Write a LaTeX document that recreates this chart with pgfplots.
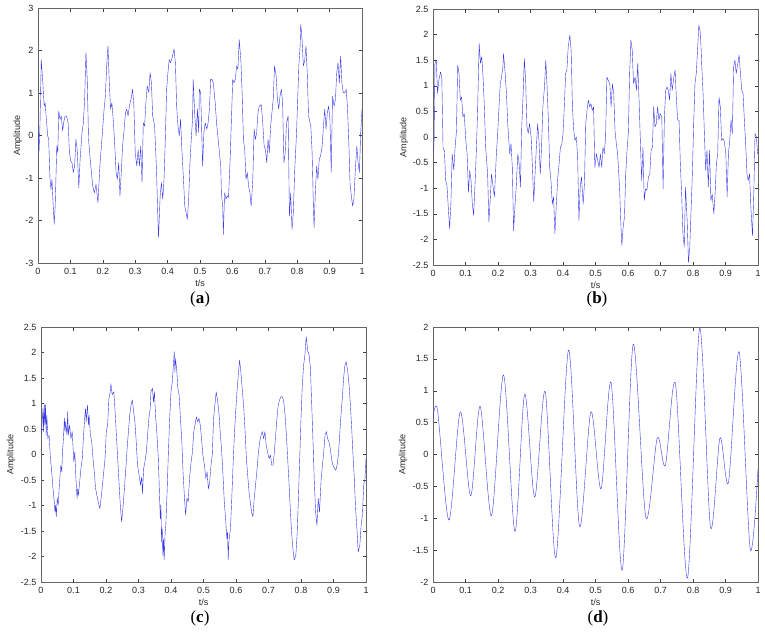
\documentclass[border=0pt]{standalone}
\usepackage{fontspec}
\setmainfont{Liberation Sans}
\newfontfamily\capfont{Liberation Serif}
\usepackage{pgfplots}
\pgfplotsset{compat=1.18}
\definecolor{sig}{RGB}{55,55,230}
\pgfplotsset{
  sigax/.style={
    scale only axis, width=325pt, height=255pt, anchor=south west,
    xmin=0, xmax=1,
    xtick={0,0.1,0.2,0.3,0.4,0.5,0.6,0.7,0.8,0.9,1},
    tick align=inside, major tick length=3.5pt,
    tick style={black!75, line width=0.4pt},
    axis line style={black!60, line width=0.5pt},
    /pgf/number format/assume math mode=true,
    ticklabel style={font=\fontsize{9}{10}\selectfont, text=black!85},
    xticklabel style={/pgf/number format/fixed, /pgf/number format/precision=1, yshift=-1.5pt},
    yticklabel style={/pgf/number format/fixed, /pgf/number format/precision=1, xshift=-1pt},
    label style={font=\fontsize{9}{10}\selectfont, text=black!85},
    xlabel={t/s}, ylabel={Amplitude},
    xlabel style={at={(axis description cs:0.5,-0.079)}, anchor=center},
  },
  sigline/.style={color=sig, line width=0.4pt, line join=round},
}
\begin{document}
\begin{tikzpicture}
\useasboundingbox (0,0) rectangle (765pt,641pt);
% (a)
\begin{axis}[sigax, at={(38pt,378pt)}, width=324pt, ymin=-3, ymax=3, ytick={-3,-2,-1,0,1,2,3},
  ylabel style={at={(axis description cs:-0.062,0.5)}, anchor=center}]
\addplot[sigline] coordinates {
(0.000,0.15)(0.003,-0.40)(0.006,0.22)(0.010,1.79)(0.014,1.36)(0.019,0.69)(0.022,0.77)(0.025,0.46)
(0.030,-0.01)(0.033,-0.09)(0.037,-1.03)(0.040,-1.27)(0.043,-1.03)(0.047,-1.66)(0.050,-2.09)(0.053,-1.66)
(0.058,-0.25)(0.061,-0.40)(0.064,0.58)(0.068,0.38)(0.072,0.46)(0.076,0.11)(0.080,0.34)(0.084,0.46)
(0.088,0.46)(0.093,0.30)(0.097,-0.40)(0.101,-0.60)(0.105,-0.64)(0.109,-0.87)(0.113,-0.72)(0.117,-0.09)
(0.121,-0.33)(0.126,-1.23)(0.130,-0.56)(0.136,0.07)(0.140,0.30)(0.144,0.85)(0.148,1.95)(0.152,1.32)
(0.156,-0.09)(0.163,-0.72)(0.169,-1.19)(0.174,-1.35)(0.179,-1.15)(0.185,-1.58)(0.191,-0.72)(0.198,-0.01)
(0.204,0.62)(0.208,0.93)(0.212,1.64)(0.216,2.11)(0.220,1.24)(0.224,0.62)(0.228,0.77)(0.233,0.30)
(0.237,-0.25)(0.241,-0.87)(0.245,-1.03)(0.249,-0.64)(0.253,-1.42)(0.257,-0.87)(0.261,-0.25)(0.265,0.07)
(0.270,0.54)(0.274,0.62)(0.278,0.46)(0.282,0.69)(0.288,0.89)(0.292,1.09)(0.296,0.69)(0.300,-0.40)
(0.305,-0.72)(0.309,-0.33)(0.313,-0.72)(0.317,-0.25)(0.321,-1.11)(0.325,0.30)(0.329,0.22)(0.333,0.77)
(0.337,1.17)(0.342,1.01)(0.346,1.48)(0.350,1.24)(0.354,0.46)(0.360,0.22)(0.366,-0.87)(0.370,-1.97)
(0.372,-2.40)(0.377,-1.42)(0.381,-1.11)(0.385,-1.50)(0.389,-1.03)(0.393,-0.09)(0.397,1.09)(0.401,1.48)
(0.405,1.79)(0.409,1.71)(0.414,1.83)(0.420,2.04)(0.424,1.71)(0.428,0.69)(0.432,0.22)(0.436,-0.01)
(0.440,0.38)(0.444,-0.33)(0.449,-1.03)(0.453,-1.66)(0.457,-1.82)(0.461,-1.97)(0.465,-1.50)(0.469,-0.64)
(0.473,-0.09)(0.477,0.38)(0.479,1.32)(0.484,0.46)(0.488,-0.01)(0.492,0.62)(0.496,0.07)(0.498,1.09)
(0.502,1.01)(0.504,0.46)(0.508,-0.72)(0.512,0.07)(0.516,0.30)(0.521,0.15)(0.525,0.30)(0.529,0.62)
(0.533,1.32)(0.537,1.32)(0.541,1.24)(0.547,0.77)(0.551,0.30)(0.556,-0.09)(0.560,-0.40)(0.564,-0.72)
(0.566,-1.35)(0.570,-1.66)(0.572,-2.33)(0.576,-1.35)(0.580,-1.50)(0.584,-1.42)(0.588,-1.46)(0.593,-0.56)
(0.597,0.38)(0.601,1.32)(0.605,1.24)(0.609,1.32)(0.613,1.64)(0.617,1.56)(0.621,2.26)(0.626,1.79)
(0.630,1.01)(0.634,-0.09)(0.638,-0.33)(0.642,-1.03)(0.646,-0.87)(0.650,-1.19)(0.654,-1.35)(0.658,-1.66)
(0.663,-1.03)(0.667,0.15)(0.671,-0.09)(0.675,0.07)(0.679,0.54)(0.683,0.69)(0.689,0.73)(0.693,0.38)
(0.698,-0.25)(0.702,-0.33)(0.706,-0.64)(0.710,-0.09)(0.714,-0.40)(0.718,0.22)(0.722,0.54)(0.726,0.85)
(0.730,1.64)(0.735,1.40)(0.739,0.85)(0.743,0.62)(0.747,0.93)(0.751,1.09)(0.755,0.77)(0.759,-0.64)
(0.763,-0.40)(0.767,0.30)(0.772,0.46)(0.776,-1.89)(0.780,-1.35)(0.784,-2.21)(0.788,-1.82)(0.792,-0.87)
(0.798,0.07)(0.805,1.64)(0.809,2.11)(0.811,2.62)(0.815,2.26)(0.819,1.64)(0.823,1.75)(0.827,2.11)
(0.831,1.48)(0.835,0.46)(0.842,0.22)(0.846,-0.40)(0.850,-1.66)(0.852,-2.17)(0.856,-1.35)(0.860,-0.72)
(0.864,-1.03)(0.868,-0.56)(0.872,-0.48)(0.877,-0.25)(0.881,0.22)(0.885,0.62)(0.889,0.15)(0.893,0.54)
(0.897,0.69)(0.901,0.38)(0.905,-0.87)(0.909,0.93)(0.914,0.69)(0.918,0.85)(0.922,1.48)(0.926,1.71)
(0.930,1.24)(0.934,1.87)(0.938,1.24)(0.942,1.01)(0.947,1.01)(0.951,1.09)(0.955,0.69)(0.959,-0.09)
(0.963,-1.11)(0.967,-1.42)(0.971,-1.66)(0.975,-1.50)(0.979,-0.87)(0.984,-0.25)(0.988,-0.64)(0.992,-0.87)
(0.996,0.07)(1.000,0.62)
};
\end{axis}
% (b)
\begin{axis}[sigax, at={(433pt,376pt)}, height=256pt, ymin=-2.5, ymax=2.5, ytick={-2.5,-2,-1.5,-1,-0.5,0,0.5,1,1.5,2,2.5},
  ylabel style={at={(axis description cs:-0.089,0.5)}, anchor=center}]
\addplot[sigline] coordinates {
(0.000,-0.29)(0.003,-0.20)(0.006,1.44)(0.010,1.50)(0.014,0.85)(0.018,1.11)(0.023,1.27)(0.027,1.17)
(0.031,-0.23)(0.035,-0.26)(0.039,-0.85)(0.043,-0.95)(0.047,-1.37)(0.051,-1.79)(0.055,-1.31)(0.059,-0.33)
(0.064,-0.65)(0.068,-0.20)(0.072,0.10)(0.076,1.40)(0.080,1.24)(0.084,0.72)(0.088,0.78)(0.092,0.39)
(0.096,0.46)(0.101,-0.07)(0.105,-0.33)(0.109,-1.08)(0.113,-0.65)(0.117,-0.85)(0.121,-1.31)(0.125,-1.53)
(0.129,-0.98)(0.133,-0.33)(0.137,0.46)(0.142,1.83)(0.146,1.44)(0.150,1.57)(0.154,1.17)(0.158,0.59)
(0.162,-0.20)(0.168,-0.72)(0.172,-1.66)(0.176,-1.24)(0.180,-0.72)(0.185,-0.98)(0.189,-1.17)(0.195,-0.33)
(0.199,0.07)(0.203,0.59)(0.207,1.04)(0.211,1.17)(0.215,1.37)(0.217,1.63)(0.222,1.24)(0.226,0.85)
(0.230,0.26)(0.236,-0.33)(0.240,-0.13)(0.244,-0.59)(0.248,-1.83)(0.252,-1.37)(0.256,-0.98)(0.261,-0.33)
(0.265,-0.52)(0.269,-0.98)(0.273,0.20)(0.277,0.78)(0.281,1.53)(0.285,1.11)(0.289,0.20)(0.293,0.07)
(0.297,0.26)(0.302,0.00)(0.306,-0.59)(0.310,-1.27)(0.314,-0.72)(0.318,-0.20)(0.322,0.26)(0.326,-0.07)
(0.330,-0.72)(0.334,-0.20)(0.338,0.59)(0.343,0.98)(0.347,1.50)(0.351,0.98)(0.355,0.33)(0.359,-0.59)
(0.363,-0.85)(0.367,-1.31)(0.371,-1.17)(0.375,-1.89)(0.379,-1.37)(0.384,-0.78)(0.388,-0.52)(0.392,-0.20)
(0.396,-0.16)(0.400,0.07)(0.404,0.59)(0.408,1.24)(0.412,1.31)(0.416,1.76)(0.421,1.99)(0.425,1.70)
(0.429,0.59)(0.433,0.13)(0.437,-0.07)(0.441,0.00)(0.445,-0.39)(0.449,-1.63)(0.453,-0.98)(0.457,-0.78)
(0.462,-1.31)(0.466,-0.91)(0.470,0.26)(0.474,0.52)(0.478,0.72)(0.482,0.59)(0.486,0.65)(0.490,0.52)
(0.494,0.59)(0.498,-0.59)(0.503,-0.33)(0.507,-0.46)(0.511,-0.59)(0.515,-0.33)(0.519,-0.59)(0.523,-0.20)
(0.527,-0.33)(0.531,0.00)(0.535,1.17)(0.539,1.11)(0.544,1.04)(0.548,0.59)(0.552,1.04)(0.556,0.85)
(0.560,0.13)(0.564,-0.13)(0.568,-0.33)(0.574,-0.98)(0.578,-1.70)(0.581,-2.12)(0.585,-1.76)(0.589,-1.57)
(0.593,-0.72)(0.597,-0.26)(0.601,0.07)(0.605,1.24)(0.609,1.89)(0.613,1.70)(0.617,1.04)(0.622,1.17)
(0.626,0.91)(0.630,1.44)(0.634,0.72)(0.638,-0.07)(0.642,-0.85)(0.646,-0.20)(0.650,-1.24)(0.654,-1.01)
(0.658,-1.04)(0.663,-0.78)(0.667,-0.72)(0.671,-0.26)(0.675,-0.20)(0.679,0.59)(0.683,0.20)(0.687,0.26)
(0.691,0.59)(0.695,0.33)(0.699,0.46)(0.704,0.39)(0.708,-1.01)(0.712,0.39)(0.716,0.91)(0.720,0.98)
(0.724,0.91)(0.728,0.72)(0.732,1.24)(0.736,0.91)(0.741,1.17)(0.745,1.31)(0.749,0.72)(0.753,0.33)
(0.757,0.33)(0.761,-0.52)(0.765,-1.11)(0.769,-1.89)(0.773,-2.15)(0.777,-0.98)(0.782,-1.63)(0.786,-2.45)
(0.790,-2.15)(0.794,-1.44)(0.798,-0.72)(0.802,0.26)(0.806,1.04)(0.810,1.24)(0.814,1.70)(0.818,2.19)
(0.823,2.02)(0.827,1.37)(0.831,0.85)(0.835,0.07)(0.839,-0.65)(0.843,-0.26)(0.847,-0.98)(0.851,-0.26)
(0.855,-1.24)(0.859,-1.11)(0.864,-1.50)(0.868,-1.11)(0.872,-0.52)(0.876,-0.33)(0.880,0.78)(0.884,0.59)
(0.888,-0.07)(0.892,-0.03)(0.896,-0.07)(0.901,-0.33)(0.905,-1.17)(0.909,-0.33)(0.913,-0.07)(0.917,0.33)
(0.921,0.07)(0.925,1.37)(0.929,1.50)(0.933,1.24)(0.937,1.40)(0.942,1.60)(0.946,1.24)(0.950,0.91)
(0.954,0.85)(0.958,0.33)(0.962,-0.13)(0.966,-0.72)(0.970,-0.85)(0.974,-0.72)(0.978,-1.37)(0.983,-1.93)
(0.987,-1.11)(0.991,0.07)(0.995,0.00)(0.999,-0.33)
};
\end{axis}
% (c)
\begin{axis}[sigax, at={(41pt,59pt)}, ymin=-2.5, ymax=2.5, ytick={-2.5,-2,-1.5,-1,-0.5,0,0.5,1,1.5,2,2.5},
  ylabel style={at={(axis description cs:-0.092,0.5)}, anchor=center}]
\addplot[sigline] coordinates {
(0.000,0.35)(0.003,0.58)(0.006,0.90)(0.008,0.45)(0.010,1.00)(0.012,0.58)(0.014,0.97)(0.016,0.38)
(0.018,0.77)(0.021,0.31)(0.025,0.38)(0.029,-0.08)(0.033,-0.34)(0.037,-0.67)(0.041,-0.93)(0.043,-1.13)
(0.045,-0.99)(0.047,-1.22)(0.050,-0.86)(0.053,-0.99)(0.057,-0.54)(0.061,-0.21)(0.064,-0.34)(0.066,0.05)
(0.069,0.31)(0.072,0.71)(0.074,0.45)(0.076,0.64)(0.080,0.38)(0.082,0.84)(0.084,0.38)(0.088,0.58)
(0.092,0.31)(0.096,0.45)(0.101,-0.14)(0.104,0.05)(0.107,-0.41)(0.111,-0.86)(0.113,-0.67)(0.115,-0.80)
(0.119,-0.54)(0.123,-0.27)(0.127,-0.08)(0.131,0.38)(0.135,0.77)(0.137,0.90)(0.139,0.64)(0.143,0.97)
(0.146,0.58)(0.148,0.77)(0.152,0.38)(0.156,0.25)(0.160,-0.08)(0.164,-0.34)(0.168,-0.67)(0.172,-0.80)
(0.176,-0.93)(0.181,-1.06)(0.185,-0.86)(0.189,-0.60)(0.193,-0.34)(0.197,-0.08)(0.201,0.45)(0.205,0.58)
(0.209,1.10)(0.213,1.23)(0.215,1.39)(0.219,1.17)(0.224,1.23)(0.228,0.84)(0.232,0.38)(0.236,-0.08)
(0.240,-0.54)(0.244,-0.99)(0.248,-1.32)(0.252,-1.06)(0.256,-0.73)(0.261,-0.27)(0.265,0.12)(0.269,0.45)
(0.273,0.77)(0.277,0.97)(0.281,1.07)(0.285,0.84)(0.289,0.64)(0.293,0.25)(0.297,-0.21)(0.302,-0.41)
(0.306,-0.60)(0.310,-0.44)(0.312,-0.77)(0.316,-0.27)(0.320,-0.14)(0.324,0.05)(0.328,0.38)(0.332,0.71)
(0.336,0.90)(0.338,1.23)(0.343,1.30)(0.346,1.03)(0.349,1.23)(0.353,0.71)(0.357,0.38)(0.361,-0.08)
(0.365,-0.86)(0.367,-1.26)(0.369,-0.99)(0.371,-1.71)(0.373,-1.45)(0.375,-1.98)(0.377,-1.65)(0.379,-2.07)
(0.382,-1.52)(0.384,-1.39)(0.388,-0.73)(0.392,0.05)(0.396,0.71)(0.400,1.23)(0.404,1.43)(0.408,1.82)
(0.410,2.02)(0.412,1.62)(0.414,1.88)(0.418,1.62)(0.421,1.30)(0.425,1.17)(0.429,0.71)(0.433,0.31)
(0.437,-0.34)(0.441,-0.80)(0.445,-1.19)(0.449,-0.86)(0.453,-0.93)(0.457,-0.47)(0.462,-0.14)(0.466,0.05)
(0.470,0.45)(0.474,0.58)(0.478,0.74)(0.482,0.64)(0.486,0.71)(0.490,0.58)(0.494,0.31)(0.498,-0.01)
(0.503,-0.21)(0.507,-0.47)(0.511,-0.34)(0.515,-0.67)(0.519,-0.54)(0.523,-0.21)(0.527,-0.01)(0.531,0.71)
(0.535,0.97)(0.539,1.23)(0.544,1.03)(0.548,0.77)(0.552,0.38)(0.556,0.05)(0.560,-0.41)(0.564,-0.93)
(0.568,-1.26)(0.572,-1.65)(0.574,-1.52)(0.576,-2.07)(0.578,-1.71)(0.583,-1.45)(0.587,-0.86)(0.591,-0.21)
(0.595,0.38)(0.599,0.84)(0.603,1.23)(0.607,1.56)(0.611,1.85)(0.615,1.62)(0.619,1.30)(0.624,0.90)
(0.628,0.45)(0.632,-0.08)(0.636,-0.41)(0.640,-0.73)(0.644,-0.93)(0.648,-1.13)(0.652,-1.22)(0.656,-0.86)
(0.661,-0.54)(0.665,-0.27)(0.669,0.05)(0.673,0.25)(0.677,0.38)(0.681,0.45)(0.685,0.31)(0.689,0.45)
(0.693,0.18)(0.697,0.05)(0.702,-0.08)(0.706,-0.01)(0.710,-0.21)(0.714,-0.21)(0.718,0.05)(0.722,0.38)
(0.726,0.71)(0.730,0.97)(0.734,1.07)(0.738,1.13)(0.743,1.13)(0.747,1.03)(0.751,0.77)(0.755,0.38)
(0.759,-0.08)(0.763,-0.54)(0.767,-1.06)(0.771,-1.52)(0.775,-1.85)(0.779,-2.07)(0.784,-1.98)(0.788,-1.58)
(0.792,-0.86)(0.796,-0.08)(0.800,0.71)(0.804,1.36)(0.808,1.75)(0.812,1.95)(0.816,2.31)(0.821,2.02)
(0.825,1.95)(0.829,1.69)(0.833,0.97)(0.837,0.25)(0.841,-0.54)(0.845,-1.13)(0.849,-1.39)(0.853,-0.86)
(0.857,-1.13)(0.862,-0.47)(0.866,-0.21)(0.870,0.05)(0.874,0.38)(0.878,0.45)(0.882,0.31)(0.886,0.25)
(0.890,0.12)(0.894,-0.08)(0.898,-0.21)(0.903,-0.27)(0.907,-0.31)(0.911,-0.21)(0.915,-0.01)(0.919,0.38)
(0.923,0.77)(0.927,1.10)(0.931,1.49)(0.935,1.75)(0.939,1.82)(0.944,1.62)(0.948,1.36)(0.952,0.97)
(0.956,0.51)(0.960,-0.01)(0.964,-0.47)(0.968,-1.06)(0.972,-1.45)(0.976,-1.91)(0.981,-1.78)(0.985,-1.39)
(0.989,-1.19)(0.993,-0.60)(0.997,-0.47)(1.000,-0.08)
};
\end{axis}
% (d)
\begin{axis}[sigax, at={(433pt,59pt)}, ymin=-2, ymax=2, ytick={-2,-1.5,-1,-0.5,0,0.5,1,1.5,2},
  ylabel style={at={(axis description cs:-0.092,0.5)}, anchor=center}]
\addplot[sigline, smooth] coordinates {
(0.000,0.57)(0.014,0.69)(0.049,-1.03)(0.084,0.67)(0.116,-0.65)(0.145,0.755)(0.180,-0.96)(0.217,1.25)
(0.252,-1.21)(0.282,0.95)(0.313,-0.67)(0.345,0.99)(0.378,-1.62)(0.417,1.64)(0.451,-1.13)(0.486,0.67)
(0.517,-0.54)(0.548,1.13)(0.582,-1.82)(0.616,1.73)(0.655,-0.99)(0.690,0.26)(0.715,-0.17)(0.746,1.11)
(0.783,-1.94)(0.8205,1.98)(0.854,-1.14)(0.883,0.26)(0.909,-0.44)(0.942,1.61)(0.976,-1.48)(1.000,-0.23)
};
\end{axis}
\node[font=\capfont\fontsize{17}{19}\selectfont] at (200pt,342pt) {(\textbf{a})};
\node[font=\capfont\fontsize{17}{19}\selectfont] at (597pt,342pt) {(\textbf{b})};
\node[font=\capfont\fontsize{17}{19}\selectfont] at (200pt,23pt) {(\textbf{c})};
\node[font=\capfont\fontsize{17}{19}\selectfont] at (598pt,23pt) {(\textbf{d})};
\end{tikzpicture}
\end{document}
